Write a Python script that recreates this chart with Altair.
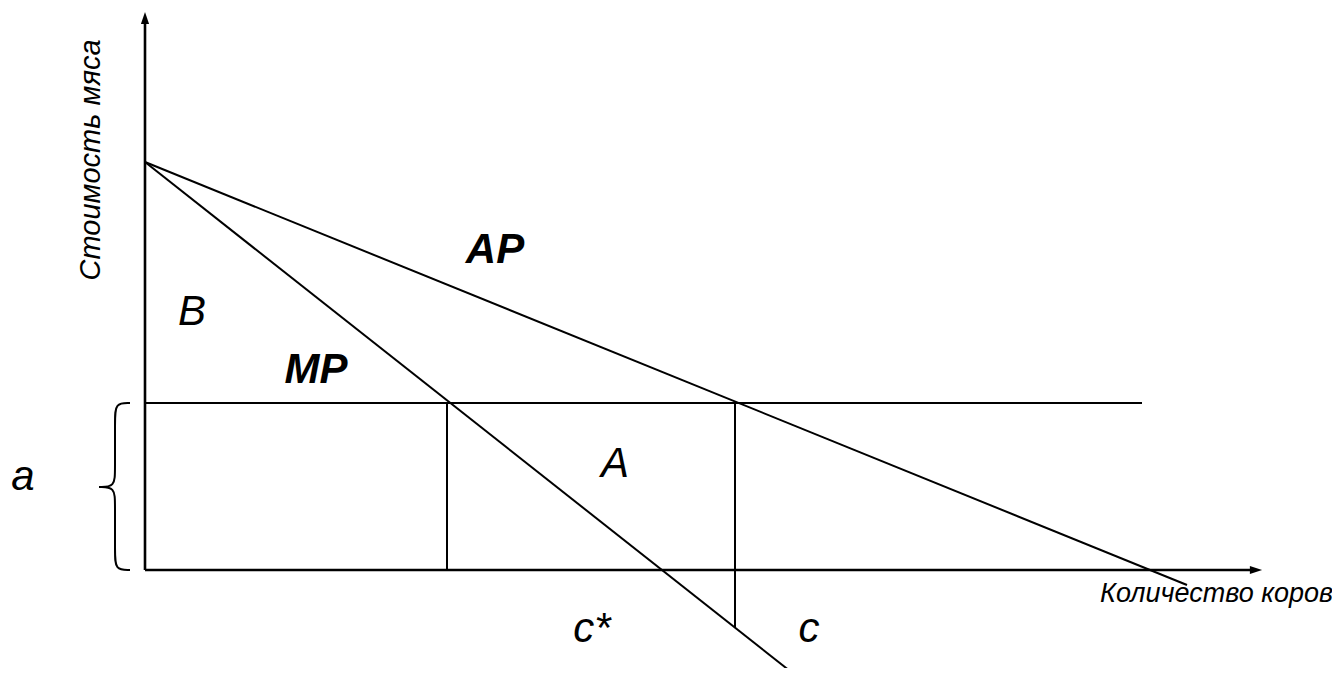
import altair as alt
import pandas as pd

# ---- values (chart units: x = cows, y = meat value) ----
seg_names = ["AP", "MP", "a", "c*", "c", "x-axis", "y-axis"]
seg_x0 = [0.0, 0.0, 0.0, 3.02, 5.90, 0.0, 0.0]
seg_y0 = [4.08, 4.08, 1.67, 0.0, -0.58, 0.0, 0.0]
seg_x1 = [10.42, 6.50, 9.97, 3.02, 5.90, 11.10, 0.0]
seg_y1 = [-0.15, -1.05, 1.67, 1.67, 1.67, 0.0, 5.50]
seg_width = [2, 2, 1.8, 2, 2, 2.6, 2.6]

# arrow heads at the axis ends
arrow_x = [11.11, 0.0]
arrow_y = [0.0, 5.52]
arrow_shape = ["M1,0L-1,-0.667L-1,0.667Z", "M0,-1L0.667,1L-0.667,1Z"]

# curly brace marking the level a
brace_part = [1, 1, 1, 1, 1, 1, 2, 2, 2, 2, 2, 2]
brace_x = [-0.15, -0.30, -0.30, -0.30, -0.30, -0.46,
           -0.46, -0.30, -0.30, -0.30, -0.30, -0.15]
brace_y = [1.67, 1.67, 1.50, 1.00, 0.83, 0.83,
           0.83, 0.83, 0.66, 0.17, 0.0, 0.0]

# labels
lab_text = ["B", "A", "c*", "c", "a"]
lab_x = [0.47, 4.70, 4.47, 6.64, -1.22]
lab_y = [2.45, 0.93, -0.72, -0.72, 0.80]

bold_text = ["AP", "MP"]
bold_x = [3.50, 1.71]
bold_y = [3.07, 1.87]

x_title = "Количество коров"
x_title_pos = (9.55, -0.32)
y_title = "Стоимость мяса"
y_title_pos = (-0.45, 4.10)

X_DOMAIN = [-1.37, 11.87]
Y_DOMAIN = [-0.98, 5.62]
FONT = "Liberation Sans"

xs = alt.Scale(domain=X_DOMAIN, nice=False, zero=False)
ys = alt.Scale(domain=Y_DOMAIN, nice=False, zero=False)

seg_df = pd.DataFrame({"name": seg_names, "x0": seg_x0, "y0": seg_y0,
                       "x1": seg_x1, "y1": seg_y1, "w": seg_width})
arrow_df = pd.DataFrame({"x": arrow_x, "y": arrow_y, "shape": arrow_shape})
brace_df = pd.DataFrame({"part": brace_part, "x": brace_x, "y": brace_y,
                         "ord": list(range(len(brace_x)))})
lab_df = pd.DataFrame({"t": lab_text, "x": lab_x, "y": lab_y})
bold_df = pd.DataFrame({"t": bold_text, "x": bold_x, "y": bold_y})
xt_df = pd.DataFrame({"t": [x_title], "x": [x_title_pos[0]], "y": [x_title_pos[1]]})
yt_df = pd.DataFrame({"t": [y_title], "x": [y_title_pos[0]], "y": [y_title_pos[1]]})

segments = alt.Chart(seg_df).mark_rule(color="black").encode(
    x=alt.X("x0:Q", scale=xs, axis=None),
    y=alt.Y("y0:Q", scale=ys, axis=None),
    x2="x1:Q", y2="y1:Q",
    strokeWidth=alt.StrokeWidth("w:Q", scale=None),
)

arrows = alt.Chart(arrow_df).mark_point(filled=True, color="black", size=150, opacity=1).encode(
    x=alt.X("x:Q", scale=xs, axis=None),
    y=alt.Y("y:Q", scale=ys, axis=None),
    shape=alt.Shape("shape:N", scale=None),
)

brace = alt.Chart(brace_df).mark_line(color="black", strokeWidth=2, interpolate="basis").encode(
    x=alt.X("x:Q", scale=xs, axis=None),
    y=alt.Y("y:Q", scale=ys, axis=None),
    detail="part:N",
    order="ord:Q",
)

labels = alt.Chart(lab_df).mark_text(font=FONT, fontSize=42, fontStyle="italic",
                                     align="center", baseline="alphabetic", color="black").encode(
    x=alt.X("x:Q", scale=xs, axis=None), y=alt.Y("y:Q", scale=ys, axis=None), text="t:N")

bold_labels = alt.Chart(bold_df).mark_text(font=FONT, fontSize=42, fontStyle="italic", fontWeight="bold",
                                           align="center", baseline="alphabetic", color="black").encode(
    x=alt.X("x:Q", scale=xs, axis=None), y=alt.Y("y:Q", scale=ys, axis=None), text="t:N")

xtitle = alt.Chart(xt_df).mark_text(font=FONT, fontSize=27, fontStyle="italic",
                                    align="left", baseline="alphabetic", color="black").encode(
    x=alt.X("x:Q", scale=xs, axis=None), y=alt.Y("y:Q", scale=ys, axis=None), text="t:N")

ytitle = alt.Chart(yt_df).mark_text(font=FONT, fontSize=29, fontStyle="italic", angle=270,
                                    align="center", baseline="alphabetic", color="black").encode(
    x=alt.X("x:Q", scale=xs, axis=None), y=alt.Y("y:Q", scale=ys, axis=None), text="t:N")

chart = alt.layer(segments, brace, arrows, labels, bold_labels, xtitle, ytitle).properties(
    width=1324, height=660, padding=0, autosize=alt.AutoSizeParams(type="none"),
    background="white",
).configure_view(stroke=None)

chart.save("out.html", embed_options={"renderer": "svg", "actions": False})
